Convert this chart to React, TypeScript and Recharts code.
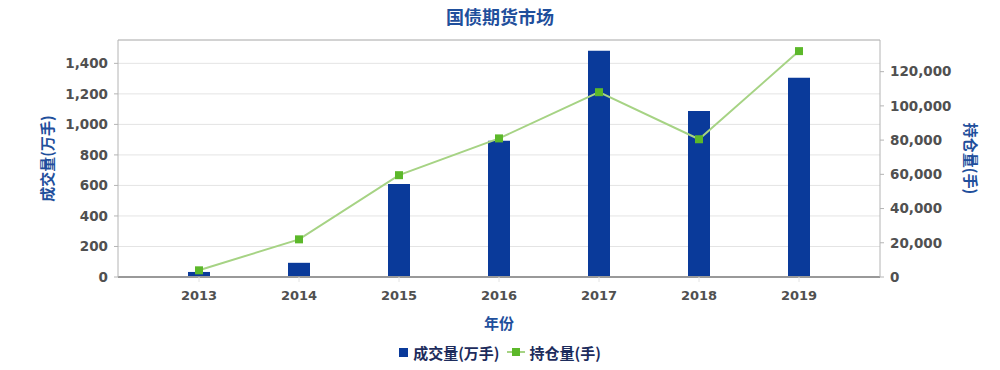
import React from 'react';
import {
  ComposedChart, Bar, Line, XAxis, YAxis, CartesianGrid, Legend, ReferenceLine,
} from 'recharts';

// Chart data.
const YEARS = ['2013', '2014', '2015', '2016', '2017', '2018', '2019'];
const VOLUME = [33, 93, 610, 893, 1482, 1088, 1305]; // 成交量(万手)
const OPEN_INTEREST = [3900, 22000, 59500, 81000, 108000, 80500, 132000]; // 持仓量(手)

const LEFT_TICKS = [0, 200, 400, 600, 800, 1000, 1200, 1400];
const RIGHT_TICKS = [0, 20000, 40000, 60000, 80000, 100000, 120000];
const LEFT_MAX = 1553;
const RIGHT_MAX = 138500;

const COLORS = {
  bar: '#0a3a9a',
  line: '#a6d384',
  marker: '#5cb82a',
  title: '#1f4f9c',
  tick: '#505050',
  grid: '#e4e4e4',
  frame: '#b4b4b4',
  axis: '#999999',
  legendText: '#1d2c5c',
};

const NUM_FONT = "'DejaVu Sans', 'Noto Sans CJK SC', sans-serif";
const CJK_FONT = "'Noto Sans CJK SC', 'DejaVu Sans', sans-serif";

const data = YEARS.map((year, i) => ({
  year,
  volume: VOLUME[i],
  oi: OPEN_INTEREST[i],
}));

const fmt = (v: number) => v.toLocaleString('en-US');

function SquareDot(props: any) {
  const { cx, cy } = props;
  if (cx == null || cy == null) return null;
  return <rect x={cx - 4} y={cy - 4} width={8} height={8} fill={COLORS.marker} />;
}

function LegendContent() {
  const txt: React.CSSProperties = {
    fontFamily: CJK_FONT, fontWeight: 700, fontSize: 15, color: COLORS.legendText,
  };
  return (
    <div style={{ display: 'flex', justifyContent: 'center', alignItems: 'center', height: 20 }}>
      <span style={{ display: 'inline-block', width: 9, height: 9, background: COLORS.bar, marginRight: 5 }} />
      <span style={txt}>成交量(万手)</span>
      <svg width={18} height={10} style={{ margin: '0 5px 0 7px' }}>
        <line x1={0} y1={5} x2={18} y2={5} stroke={COLORS.line} strokeWidth={2} />
        <rect x={5} y={1} width={8} height={8} fill={COLORS.marker} />
      </svg>
      <span style={txt}>持仓量(手)</span>
    </div>
  );
}

export default function App() {
  return (
    <div style={{ position: 'absolute', left: 0, top: 0, width: 1000, height: 370, background: '#fff' }}>
      <div style={{
        position: 'absolute', top: 3, left: 0, width: 1000, textAlign: 'center',
        fontFamily: CJK_FONT, fontWeight: 700, fontSize: 18, color: COLORS.title, lineHeight: '26px',
      }}>
        国债期货市场
      </div>
      <ComposedChart
        width={1000}
        height={370}
        data={data}
        margin={{ top: 40, right: 0, left: 0, bottom: 8 }}
        style={{ fontFamily: NUM_FONT }}
      >
        <CartesianGrid horizontal vertical={false} stroke={COLORS.grid} yAxisId="left" />
        <XAxis
          dataKey="year"
          height={65}
          padding={{ left: 31, right: 31 }}
          axisLine={{ stroke: COLORS.axis, strokeWidth: 2 }}
          tickLine={{ stroke: COLORS.grid }}
          tickSize={5}
          tickMargin={9}
          tick={{ fontSize: 13, fontWeight: 700, fill: COLORS.tick, fontFamily: NUM_FONT }}
          label={{
            value: '年份', position: 'insideBottom', offset: 13,
            style: { fontFamily: CJK_FONT, fontWeight: 700, fontSize: 15, fill: COLORS.title },
          }}
        />
        <YAxis
          yAxisId="left"
          width={118}
          domain={[0, LEFT_MAX]}
          ticks={LEFT_TICKS}
          allowDataOverflow
          tickFormatter={fmt}
          axisLine={{ stroke: COLORS.frame }}
          tickLine={{ stroke: COLORS.frame }}
          tickSize={4}
          tickMargin={6}
          tick={{ fontSize: 13.5, fontWeight: 700, fill: COLORS.tick, fontFamily: NUM_FONT }}
          label={{
            value: '成交量(万手)', angle: -90, position: 'insideLeft', offset: 48,
            style: { fontFamily: CJK_FONT, fontWeight: 700, fontSize: 15, fill: COLORS.title, textAnchor: 'middle' },
          }}
        />
        <YAxis
          yAxisId="right"
          orientation="right"
          width={120}
          domain={[0, RIGHT_MAX]}
          ticks={RIGHT_TICKS}
          allowDataOverflow
          tickFormatter={fmt}
          axisLine={{ stroke: COLORS.frame }}
          tickLine={{ stroke: COLORS.frame }}
          tickSize={4}
          tickMargin={6}
          tick={{ fontSize: 13.5, fontWeight: 700, fill: COLORS.tick, fontFamily: NUM_FONT }}
          label={{
            value: '持仓量(手)', angle: 90, position: 'insideRight', offset: 30,
            style: { fontFamily: CJK_FONT, fontWeight: 700, fontSize: 15, fill: COLORS.title, textAnchor: 'middle' },
          }}
        />
        <ReferenceLine yAxisId="left" y={LEFT_MAX} stroke={COLORS.frame} />
        <Legend verticalAlign="bottom" height={20} content={<LegendContent />} />
        <Bar
          yAxisId="left"
          dataKey="volume"
          name="成交量(万手)"
          fill={COLORS.bar}
          barSize={22}
          isAnimationActive={false}
        />
        <Line
          yAxisId="right"
          dataKey="oi"
          name="持仓量(手)"
          type="linear"
          stroke={COLORS.line}
          strokeWidth={2}
          dot={<SquareDot />}
          activeDot={false}
          isAnimationActive={false}
        />
      </ComposedChart>
    </div>
  );
}
